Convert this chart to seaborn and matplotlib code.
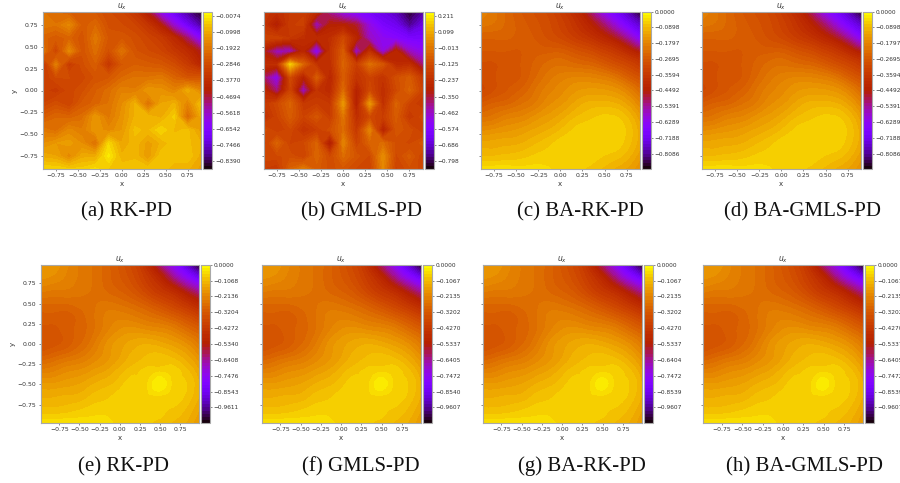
import numpy as np
import matplotlib
matplotlib.use("Agg")
import matplotlib.pyplot as plt
import matplotlib.tri as mtri
import seaborn as sns

# values, rows run from top (y max) to bottom (y min)
FIELD_A = [
    [-.20, -.22, -.24, -.24, -.26, -.29, -.31, -.36, -.46, -.62, -.72, -.80, -.87],
    [-.19, -.20, -.16, -.25, -.22, -.28, -.29, -.31, -.36, -.44, -.58, -.70, -.79],
    [-.23, -.25, -.23, -.27, -.19, -.26, -.26, -.28, -.31, -.34, -.40, -.50, -.64],
    [-.19, -.31, -.16, -.27, -.21, -.28, -.20, -.27, -.29, -.31, -.35, -.39, -.46],
    [-.37, -.18, -.34, -.28, -.24, -.35, -.26, -.24, -.25, -.26, -.29, -.34, -.41],
    [-.33, -.29, -.29, -.30, -.27, -.26, -.22, -.20, -.20, -.19, -.23, -.27, -.26],
    [-.32, -.34, -.30, -.28, -.24, -.21, -.17, -.18, -.13, -.14, -.17, -.10, -.16],
    [-.31, -.28, -.31, -.25, -.23, -.20, -.15, -.09, -.21, -.11, -.09, -.17, -.07],
    [-.25, -.22, -.23, -.21, -.13, -.19, -.14, -.09, -.08, -.10, -.05, -.22, -.11],
    [-.19, -.21, -.16, -.18, -.13, -.16, -.13, -.07, -.08, -.04, -.08, -.07, -.12],
    [-.15, -.13, -.12, -.15, -.21, -.04, -.11, -.08, -.12, -.09, -.06, -.07, -.09],
    [-.10, -.11, -.16, -.10, -.10, -.015, -.09, -.08, -.13, -.06, -.07, -.06, -.10],
    [-.04, -.04, -.05, -.05, -.03, -.06, -.06, -.06, -.06, -.07, -.08, -.09, -.12],
]
FIELD_B = [
    [-.20, -.24, -.20, -.18, -.26, -.42, -.52, -.58, -.62, -.66, -.72, -.82, -.74],
    [-.22, -.32, -.18, -.17, -.46, -.30, -.30, -.34, -.50, -.60, -.64, -.75, -.66],
    [-.16, -.16, -.20, -.24, -.26, -.24, -.14, -.28, -.46, -.52, -.56, -.60, -.60],
    [-.32, -.46, -.46, -.28, -.54, -.22, -.08, -.48, -.24, -.50, -.28, -.46, -.52],
    [-.24, -.24, .16, -.06, -.22, -.24, -.06, -.18, -.03, -.10, -.26, -.24, -.40],
    [-.38, -.52, -.14, -.30, -.08, -.28, -.08, -.22, -.16, -.22, -.12, -.08, -.20],
    [-.26, -.40, -.16, -.46, -.22, -.26, -.04, -.30, -.14, -.24, -.14, -.06, -.16],
    [-.20, -.14, -.06, -.20, -.18, -.20, .06, -.32, .06, -.24, -.06, -.16, -.20],
    [-.24, -.16, -.08, -.16, -.10, -.18, -.02, -.24, -.14, -.18, -.08, -.20, -.14],
    [-.12, -.18, -.14, -.22, -.18, -.12, -.04, -.20, .02, -.30, -.10, -.12, -.18],
    [-.18, -.06, -.16, -.14, -.06, -.34, .02, -.16, -.06, -.04, -.12, -.14, -.10],
    [-.14, -.14, -.12, -.16, -.05, -.14, -.04, -.10, -.14, .04, -.14, -.08, -.16],
    [-.18, -.20, -.06, .00, -.08, -.12, -.10, -.14, -.16, .02, -.16, -.12, -.14],
]
FIELD_BA = [
    [-.19, -.21, -.24, -.27, -.29, -.31, -.35, -.40, -.48, -.60, -.70, -.78, -.89],
    [-.21, -.22, -.24, -.26, -.28, -.30, -.33, -.37, -.42, -.49, -.58, -.68, -.76],
    [-.25, -.25, -.25, -.26, -.27, -.29, -.31, -.34, -.37, -.41, -.46, -.54, -.65],
    [-.27, -.27, -.27, -.27, -.26, -.26, -.26, -.28, -.30, -.33, -.36, -.41, -.47],
    [-.29, -.29, -.28, -.27, -.25, -.23, -.22, -.23, -.24, -.26, -.29, -.32, -.36],
    [-.30, -.29, -.28, -.27, -.24, -.21, -.19, -.18, -.18, -.19, -.21, -.25, -.29],
    [-.31, -.29, -.27, -.25, -.22, -.19, -.17, -.15, -.14, -.14, -.15, -.18, -.23],
    [-.27, -.25, -.24, -.22, -.20, -.17, -.15, -.125, -.105, -.10, -.105, -.13, -.18],
    [-.22, -.21, -.19, -.18, -.16, -.14, -.12, -.095, -.08, -.07, -.07, -.09, -.14],
    [-.17, -.16, -.15, -.14, -.125, -.11, -.09, -.07, -.062, -.062, -.062, -.075, -.12],
    [-.12, -.12, -.115, -.11, -.095, -.08, -.065, -.062, -.062, -.062, -.062, -.08, -.12],
    [-.09, -.09, -.085, -.08, -.07, -.065, -.062, -.062, -.062, -.07, -.08, -.10, -.14],
    [-.04, -.04, -.04, -.045, -.045, -.05, -.062, -.065, -.075, -.09, -.11, -.13, -.16],
]
FIELD_FINE = [
    [-.17, -.18, -.21, -.24, -.26, -.29, -.33, -.38, -.47, -.62, -.75, -.90, -1.06],
    [-.19, -.20, -.22, -.24, -.26, -.29, -.32, -.36, -.42, -.50, -.62, -.74, -.85],
    [-.23, -.24, -.24, -.25, -.26, -.28, -.30, -.33, -.38, -.43, -.48, -.56, -.65],
    [-.28, -.28, -.28, -.27, -.26, -.25, -.26, -.28, -.31, -.35, -.39, -.44, -.50],
    [-.31, -.31, -.31, -.29, -.26, -.23, -.22, -.23, -.25, -.27, -.30, -.34, -.39],
    [-.33, -.33, -.31, -.29, -.26, -.22, -.19, -.18, -.19, -.20, -.22, -.26, -.30],
    [-.34, -.33, -.31, -.28, -.24, -.19, -.16, -.14, -.13, -.14, -.16, -.19, -.24],
    [-.30, -.28, -.26, -.24, -.21, -.18, -.15, -.12, -.105, -.10, -.11, -.14, -.19],
    [-.23, -.22, -.20, -.19, -.17, -.15, -.12, -.095, -.08, -.072, -.075, -.10, -.15],
    [-.17, -.17, -.16, -.15, -.13, -.115, -.095, -.075, -.07, -.05, -.07, -.085, -.13],
    [-.13, -.13, -.125, -.12, -.10, -.09, -.075, -.072, -.07, -.07, -.072, -.09, -.13],
    [-.10, -.10, -.095, -.085, -.075, -.072, -.072, -.072, -.072, -.08, -.09, -.11, -.15],
    [-.045, -.045, -.045, -.05, -.05, -.055, -.072, -.072, -.08, -.095, -.11, -.13, -.17],
]

# value at the yellow spot near (0.5, -0.5) in the lower panels
PEAK_E = -0.024
PEAK_F = -0.028
PEAK_G = -0.03
PEAK_H = -0.03

TICKS_A = [-0.0074, -0.0998, -0.1922, -0.2846, -0.3770, -0.4694, -0.5618, -0.6542, -0.7466, -0.8390]
TICKS_B = [0.211, 0.099, -0.013, -0.125, -0.237, -0.350, -0.462, -0.574, -0.686, -0.798]
TICKS_C = [0.0, -0.0898, -0.1797, -0.2695, -0.3594, -0.4492, -0.5391, -0.6289, -0.7188, -0.8086]
TICKS_E = [0.0, -0.1068, -0.2136, -0.3204, -0.4272, -0.5340, -0.6408, -0.7476, -0.8543, -0.9611]
TICKS_F = [0.0, -0.1067, -0.2135, -0.3202, -0.4270, -0.5337, -0.6405, -0.7472, -0.8540, -0.9607]
TICKS_G = [0.0, -0.1067, -0.2135, -0.3202, -0.4270, -0.5337, -0.6404, -0.7472, -0.8539, -0.9607]
TICKS_H = [0.0, -0.1067, -0.2135, -0.3202, -0.4270, -0.5337, -0.6405, -0.7472, -0.8539, -0.9607]

CAPTIONS = ["(a) RK-PD", "(b) GMLS-PD", "(c) BA-RK-PD", "(d) BA-GMLS-PD",
            "(e) RK-PD", "(f) GMLS-PD", "(g) BA-RK-PD", "(h) BA-GMLS-PD"]
XTICKS = [-0.75, -0.50, -0.25, 0.00, 0.25, 0.50, 0.75]


def with_peak(peak):
    """Fine field with its spot value swapped in."""
    field = np.array(FIELD_FINE)
    field[9, 9] = peak
    return field


# layout in pixels of the reference: axes left/right, colorbar left/right, caption centre
TOP_ROW = (11.7, 169.3, 212.0)
BOTTOM_ROW = (264.7, 423.3, 466.5)
PANELS = [
    (FIELD_A, TICKS_A, (0.0154, -0.885), 0.9, (42.7, 200.7, 203.3, 211.7, 126.3), TOP_ROW),
    (FIELD_B, TICKS_B, (0.239, -0.853), 0.9, (263.7, 422.7, 425.0, 433.7, 361.7), TOP_ROW),
    (FIELD_BA, TICKS_C, (0.0, -0.8984), 0.9, (480.7, 640.0, 642.0, 650.7, 580.3), TOP_ROW),
    (FIELD_BA, TICKS_C, (0.0, -0.8984), 0.9, (701.7, 861.0, 863.0, 871.7, 802.0), TOP_ROW),
    (with_peak(PEAK_E), TICKS_E, (0.0, -1.0679), 0.98, (40.7, 199.0, 201.3, 210.0, 124.0), BOTTOM_ROW),
    (with_peak(PEAK_F), TICKS_F, (0.0, -1.0675), 0.98, (261.7, 420.7, 423.0, 431.7, 361.0), BOTTOM_ROW),
    (with_peak(PEAK_G), TICKS_G, (0.0, -1.0674), 0.98, (482.7, 641.7, 644.0, 652.7, 582.0), BOTTOM_ROW),
    (with_peak(PEAK_H), TICKS_H, (0.0, -1.0674), 0.98, (703.3, 862.7, 865.3, 874.0, 804.0), BOTTOM_ROW),
]

sns.set_theme(style="ticks", rc={
    "axes.edgecolor": "#a8a8a8",
    "axes.linewidth": 0.8,
    "xtick.labelsize": 4.4,
    "ytick.labelsize": 4.4,
    "xtick.major.size": 1.5,
    "ytick.major.size": 1.5,
    "xtick.major.width": 0.4,
    "ytick.major.width": 0.4,
    "xtick.major.pad": 1.5,
    "ytick.major.pad": 1.5,
    "xtick.color": "#333333",
    "ytick.color": "#333333",
})
cmap = sns.color_palette("gnuplot", as_cmap=True)

W, H = 900, 483
fig = plt.figure(figsize=(W / 100, H / 100), dpi=100)


def px_rect(x0, x1, y0, y1):
    return [x0 / W, 1 - y1 / H, (x1 - x0) / W, (y1 - y0) / H]


for i, (field, ticks, (vmax, vmin), lim, xs, row) in enumerate(PANELS):
    top, bottom, cap_y = row
    left, right, cb_left, cb_right, cap_x = xs
    ax = fig.add_axes(px_rect(left, right, top, bottom))
    cax = fig.add_axes(px_rect(cb_left, cb_right, top, bottom))

    field = np.array(field)
    coords = np.linspace(-lim, lim, field.shape[1])
    levels = np.linspace(vmin, vmax, 51)
    if i < 2:
        # noisy panels keep their faceted look
        cs = ax.contourf(coords, coords, field[::-1], levels=levels, cmap=cmap)
    else:
        gx, gy = np.meshgrid(coords, coords)
        tri = mtri.Triangulation(gx.ravel(), gy.ravel())
        fine_tri, fine_z = mtri.UniformTriRefiner(tri).refine_field(field[::-1].ravel(), subdiv=3)
        cs = ax.tricontourf(fine_tri, np.clip(fine_z, vmin, vmax - 1e-4), levels=levels, cmap=cmap)

    ax.set_xlim(-lim, lim)
    ax.set_ylim(-lim, lim)
    ax.set_xticks(XTICKS)
    ax.set_yticks(XTICKS)
    ax.set_xticklabels([f"{t:.2f}".replace("-", "\u2212") for t in XTICKS])
    if i % 4 == 0:
        ax.set_yticklabels([f"{t:.2f}".replace("-", "\u2212") for t in XTICKS])
        ax.set_ylabel("y", fontsize=5, labelpad=1.5, color="#333333")
    else:
        ax.set_yticklabels([])
    ax.set_xlabel("x", fontsize=5, labelpad=1.5, color="#333333")
    ax.set_title("$u_x$", fontsize=5.5, pad=0, color="#333333")

    cb = fig.colorbar(cs, cax=cax)
    cb.set_ticks(ticks)
    fmt = "{:.3f}" if i == 1 else "{:.4f}"
    cb.set_ticklabels([fmt.format(t).replace("-", "\u2212") for t in ticks])
    cb.ax.tick_params(labelsize=4.2, length=1.5, width=0.4, pad=1.0)
    cb.outline.set_edgecolor("#a8a8a8")
    cb.outline.set_linewidth(0.8)

    fig.text(cap_x / W, 1 - cap_y / H, CAPTIONS[i], ha="center", va="center",
             family="Liberation Serif", fontsize=15, color="#111111")

fig.savefig("out.png", dpi=100)
